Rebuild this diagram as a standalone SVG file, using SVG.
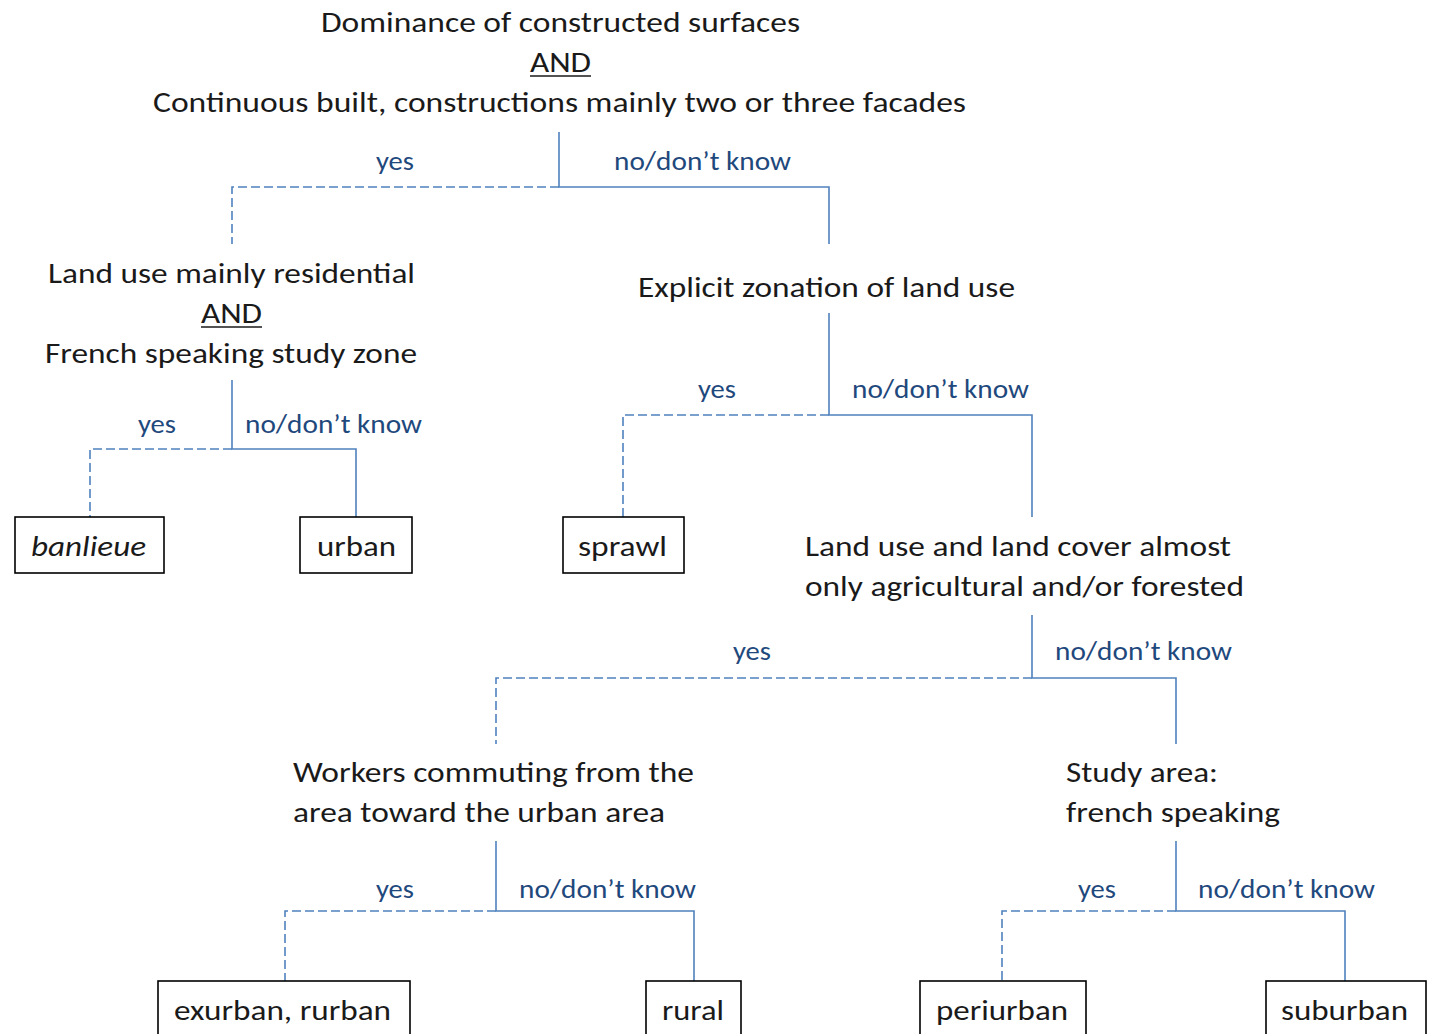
<svg xmlns="http://www.w3.org/2000/svg" width="1429" height="1034" viewBox="0 0 1429 1034">
<style>
text{font-family:Carlito,Lato,"Liberation Sans",sans-serif;}
.t{font-size:28px;fill:#1a1a1a;}
.m{text-anchor:middle;}
.lb{font-size:26px;fill:#1F497D;}
.box{fill:#fff;stroke:#000;stroke-width:1.6;}
.s{fill:none;stroke:#4F81BD;stroke-width:1.6;}
.d{fill:none;stroke:#4F81BD;stroke-width:1.6;stroke-dasharray:9 4;}
.u{stroke:#1a1a1a;stroke-width:1.6;}
</style>
<rect width="1429" height="1034" fill="#fff"/>
<g id="connectors">
<path class="s" d="M559 132V187H829V244"/>
<path class="d" d="M559 187H232V244"/>
<path class="s" d="M232 380V449H356V517"/>
<path class="d" d="M232 449H90V517"/>
<path class="s" d="M829 313V415H1032V517"/>
<path class="d" d="M829 415H623V517"/>
<path class="s" d="M1032 615V678H1176V744"/>
<path class="d" d="M1032 678H496V744"/>
<path class="s" d="M496 841V911H694V981"/>
<path class="d" d="M496 911H285V981"/>
<path class="s" d="M1176 841V911H1345V981"/>
<path class="d" d="M1176 911H1002V981"/>
<g id="labels">
<text class="lb m" x="395" y="170" textLength="38" lengthAdjust="spacingAndGlyphs">yes</text>
<text class="lb" x="614" y="170" textLength="177" lengthAdjust="spacingAndGlyphs">no/don’t know</text>
<text class="lb m" x="157" y="433" textLength="38" lengthAdjust="spacingAndGlyphs">yes</text>
<text class="lb" x="245" y="433" textLength="177" lengthAdjust="spacingAndGlyphs">no/don’t know</text>
<text class="lb m" x="717" y="398" textLength="38" lengthAdjust="spacingAndGlyphs">yes</text>
<text class="lb" x="852" y="398" textLength="177" lengthAdjust="spacingAndGlyphs">no/don’t know</text>
<text class="lb m" x="752" y="660" textLength="38" lengthAdjust="spacingAndGlyphs">yes</text>
<text class="lb" x="1055" y="660" textLength="177" lengthAdjust="spacingAndGlyphs">no/don’t know</text>
<text class="lb m" x="395" y="898" textLength="38" lengthAdjust="spacingAndGlyphs">yes</text>
<text class="lb" x="519" y="898" textLength="177" lengthAdjust="spacingAndGlyphs">no/don’t know</text>
<text class="lb m" x="1097" y="898" textLength="38" lengthAdjust="spacingAndGlyphs">yes</text>
<text class="lb" x="1198" y="898" textLength="177" lengthAdjust="spacingAndGlyphs">no/don’t know</text>
</g>
</g>
<g id="q1">
<text class="t" x="321" y="32" textLength="479" lengthAdjust="spacingAndGlyphs">Dominance of constructed surfaces</text>
<text class="t" x="530" y="72" textLength="61" lengthAdjust="spacingAndGlyphs">AND</text>
<line class="u" x1="530" y1="76" x2="591" y2="76"/>
<text class="t" x="153" y="112" textLength="813" lengthAdjust="spacingAndGlyphs">Continuous built, constructions mainly two or three facades</text>
</g>
<g id="q2">
<text class="t" x="48" y="283" textLength="367" lengthAdjust="spacingAndGlyphs">Land use mainly residential</text>
<text class="t" x="201" y="323" textLength="61" lengthAdjust="spacingAndGlyphs">AND</text>
<line class="u" x1="201" y1="327" x2="262" y2="327"/>
<text class="t" x="45" y="363" textLength="372" lengthAdjust="spacingAndGlyphs">French speaking study zone</text>
</g>
<g id="q3">
<text class="t" x="638" y="297" textLength="377" lengthAdjust="spacingAndGlyphs">Explicit zonation of land use</text>
</g>
<g id="q4">
<text class="t" x="805" y="556" textLength="426" lengthAdjust="spacingAndGlyphs">Land use and land cover almost</text>
<text class="t" x="805" y="596" textLength="439" lengthAdjust="spacingAndGlyphs">only agricultural and/or forested</text>
</g>
<g id="q5">
<text class="t" x="293" y="782" textLength="401" lengthAdjust="spacingAndGlyphs">Workers commuting from the</text>
<text class="t" x="293" y="822" textLength="372" lengthAdjust="spacingAndGlyphs">area toward the urban area</text>
</g>
<g id="q6">
<text class="t" x="1066" y="782" textLength="152" lengthAdjust="spacingAndGlyphs">Study area:</text>
<text class="t" x="1066" y="822" textLength="214" lengthAdjust="spacingAndGlyphs">french speaking</text>
</g>
<g id="banlieue">
<rect class="box" x="15" y="517" width="149" height="56"/>
<text class="t" x="31" y="556" font-style="italic" textLength="115" lengthAdjust="spacingAndGlyphs">banlieue</text>
</g>
<g id="urban">
<rect class="box" x="300" y="517" width="112" height="56"/>
<text class="t" x="317" y="556" textLength="79" lengthAdjust="spacingAndGlyphs">urban</text>
</g>
<g id="sprawl">
<rect class="box" x="563" y="517" width="121" height="56"/>
<text class="t" x="578" y="556" textLength="89" lengthAdjust="spacingAndGlyphs">sprawl</text>
</g>
<g id="exurban">
<rect class="box" x="158" y="981" width="252" height="60"/>
<text class="t" x="174" y="1020" textLength="217" lengthAdjust="spacingAndGlyphs">exurban, rurban</text>
</g>
<g id="rural">
<rect class="box" x="646" y="981" width="95" height="60"/>
<text class="t" x="662" y="1020" textLength="62" lengthAdjust="spacingAndGlyphs">rural</text>
</g>
<g id="periurban">
<rect class="box" x="920" y="981" width="166" height="60"/>
<text class="t" x="936" y="1020" textLength="132" lengthAdjust="spacingAndGlyphs">periurban</text>
</g>
<g id="suburban">
<rect class="box" x="1266" y="981" width="160" height="60"/>
<text class="t" x="1281" y="1020" textLength="127" lengthAdjust="spacingAndGlyphs">suburban</text>
</g>
</svg>
